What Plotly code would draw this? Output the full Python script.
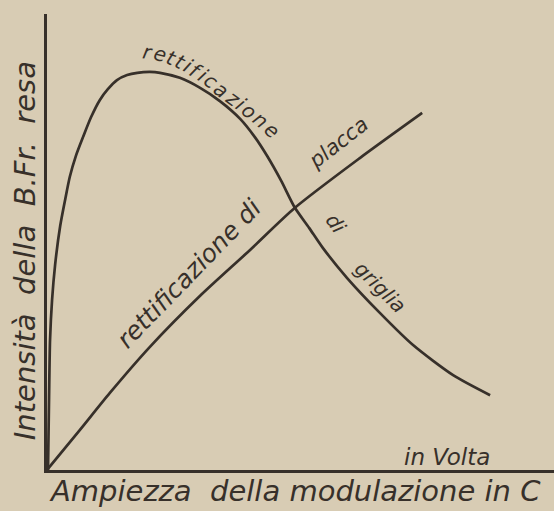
import math
import plotly.graph_objects as go

# ---- data (arbitrary units) ----
griglia_x = [0.02, 0.04, 0.06, 0.10, 0.16, 0.26, 0.36, 0.45, 0.57, 0.71, 0.87, 1.04, 1.20, 1.38, 1.58, 1.78,
             2.03, 2.23, 2.62, 3.02, 3.41, 3.81, 4.10, 4.34, 4.62, 4.89, 5.17, 5.44, 5.92, 6.57, 7.22, 8.01, 8.74]
griglia_y = [0.00, 1.54, 2.85, 3.73, 4.50, 5.35, 5.94, 6.43, 6.89, 7.30, 7.74, 8.11, 8.35, 8.55, 8.66, 8.71,
             8.73, 8.71, 8.60, 8.38, 8.09, 7.70, 7.30, 6.89, 6.34, 5.75, 5.31, 4.87, 4.21, 3.44, 2.74, 2.08, 1.64]

placca_x = [0.00, 0.65, 1.24, 2.03, 3.02, 4.00, 4.89, 6.17, 7.40]
placca_y = [0.00, 0.88, 1.69, 2.70, 3.82, 4.82, 5.75, 6.84, 7.83]

# letters of the curved label along the grid curve
arc_letters = list("rettificazione")
arc_x = [1.99, 2.23, 2.46, 2.64, 2.79, 2.93, 3.07, 3.23, 3.44, 3.66, 3.82, 3.99, 4.21, 4.43]
arc_y = [9.17, 9.12, 9.04, 8.95, 8.86, 8.76, 8.66, 8.52, 8.34, 8.16, 8.03, 7.87, 7.67, 7.46]

X_RANGE = [0, 10]
Y_RANGE = [0, 10]
W, H = 554, 511
ML, MR, MT, MB = 47, 0, 14, 41

BG = "#d8ccb4"
INK = "#37302a"
FONT = "DejaVu Sans"

fig = go.Figure()
fig.add_trace(go.Scatter(x=griglia_x, y=griglia_y, mode="lines",
                         line=dict(color=INK, width=2.7, shape="spline", smoothing=0.7),
                         hoverinfo="skip"))
fig.add_trace(go.Scatter(x=placca_x, y=placca_y, mode="lines",
                         line=dict(color=INK, width=2.7, shape="spline", smoothing=0.7),
                         hoverinfo="skip"))

# pixel scale for computing letter angles
sx = (W - ML - MR) / (X_RANGE[1] - X_RANGE[0])
sy = (H - MT - MB) / (Y_RANGE[1] - Y_RANGE[0])

annotations = []
n = len(arc_letters)
for i, ch in enumerate(arc_letters):
    a = max(i - 1, 0)
    b = min(i + 1, n - 1)
    dx = (arc_x[b] - arc_x[a]) * sx
    dy = (arc_y[b] - arc_y[a]) * sy
    ang = -math.degrees(math.atan2(dy, dx))
    annotations.append(dict(x=arc_x[i], y=arc_y[i], xref="x", yref="y", text=ch,
                            showarrow=False, textangle=ang, xanchor="center", yanchor="middle",
                            font=dict(family=FONT, size=20, color=INK, style="italic")))


def lab(text, x, y, angle, size=20):
    annotations.append(dict(x=x, y=y, xref="x", yref="y", text=text, showarrow=False,
                            textangle=angle, xanchor="center", yanchor="middle",
                            font=dict(family=FONT, size=size, color=INK, style="italic")))


lab("rettificazione di", 2.80, 4.32, -46, 25)
lab("placca", 5.74, 7.17, -38, 21)
lab("di", 5.70, 5.39, 55, 20)
lab("griglia", 6.57, 4.01, 45, 20)
lab("in Volta", 7.89, 0.285, 0, 23)

annotations.append(dict(x=0.489, y=-0.046, xref="paper", yref="paper",
                        xanchor="center", yanchor="middle",
                        text="Ampiezza&nbsp; della modulazione in C", showarrow=False,
                        font=dict(family=FONT, size=29, color=INK, style="italic")))
annotations.append(dict(x=-0.0434, y=0.482, xref="paper", yref="paper",
                        xanchor="center", yanchor="middle",
                        text="Intensità&nbsp; della&nbsp; B.Fr.&nbsp; resa",
                        showarrow=False, textangle=-90,
                        font=dict(family=FONT, size=29, color=INK, style="italic")))

fig.update_layout(
    width=W, height=H,
    margin=dict(l=ML, r=MR, t=MT, b=MB),
    paper_bgcolor=BG, plot_bgcolor=BG,
    showlegend=False,
    xaxis=dict(range=X_RANGE, showgrid=False, zeroline=False, showticklabels=False,
               ticks="", showline=True, linecolor=INK, linewidth=2.5, fixedrange=True),
    yaxis=dict(range=Y_RANGE, showgrid=False, zeroline=False, showticklabels=False,
               ticks="", showline=True, linecolor=INK, linewidth=2.5, fixedrange=True),
    annotations=annotations,
)

fig.write_html("out.html", config={"displayModeBar": False},
               post_script="document.body.style.margin='0px';document.body.style.overflow='hidden';")
